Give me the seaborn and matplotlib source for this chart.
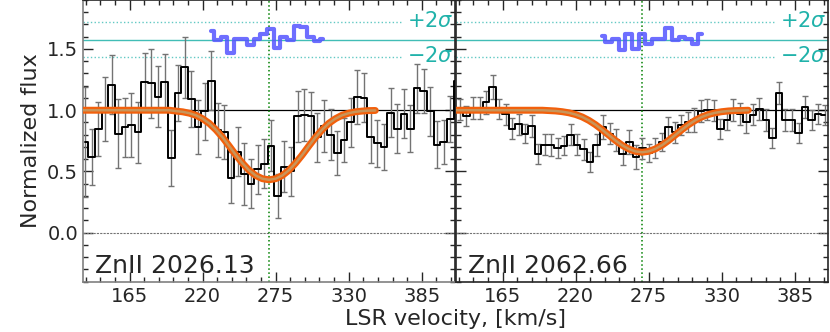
import matplotlib
matplotlib.use("Agg")
import matplotlib.pyplot as plt
from matplotlib.ticker import MultipleLocator
import seaborn as sns

sns.set_style("ticks")
plt.rcParams['font.family'] = ['DejaVu Sans']

# --- ZnII 2026.13 (painel esquerdo) ---
left_vel = [131.5 + 5 * k for k in range(57)]
left_flux = [0.74, 0.62, 0.85, 1.01, 1.21, 0.81, 0.86, 0.88, 0.82, 1.23,
             1.22, 1.11, 1.23, 0.61, 1.14, 1.35, 1.09, 0.86, 0.99, 1.24,
             0.84, 0.82, 0.45, 0.66, 0.48, 0.40, 0.52, 0.565, 0.71, 0.30,
             0.54, 0.50, 0.95, 0.96, 0.95, 0.78, 0.87, 0.80, 0.65, 0.76,
             0.90, 1.11, 1.10, 0.78, 0.73, 0.70, 0.98, 0.85, 0.97, 0.85,
             1.18, 1.16, 0.99, 0.72, 0.74, 0.93, 1.24]
left_err = [0.45, 0.23, 0.22, 0.26, 0.24, 0.28, 0.24, 0.26, 0.25, 0.24,
            0.28, 0.25, 0.23, 0.23, 0.23, 0.25, 0.23, 0.22, 0.23, 0.24,
            0.22, 0.22, 0.21, 0.20, 0.25, 0.20, 0.20, 0.20, 0.21, 0.18,
            0.21, 0.20, 0.21, 0.21, 0.20, 0.20, 0.21, 0.21, 0.18, 0.18,
            0.20, 0.22, 0.20, 0.21, 0.19, 0.19, 0.20, 0.20, 0.20, 0.19,
            0.20, 0.18, 0.20, 0.19, 0.18, 0.19, 0.20]

# --- ZnII 2062.66 (painel direito) ---
right_vel = [133 + 4.9 * k for k in range(57)]
right_flux = [1.005, 0.954, 1.02, 1.02, 1.065, 1.19, 1.01, 0.967, 0.85, 0.886,
              0.81, 0.87, 0.646, 0.72, 0.72, 0.69, 0.71, 0.80, 0.72, 0.68,
              0.58, 0.715, 0.864, 0.81, 0.755, 0.64, 0.74, 0.62, 0.69, 0.65,
              0.69, 0.74, 0.86, 0.82, 0.88, 0.905, 0.92, 0.99, 1.005, 1.00,
              0.85, 0.92, 1.005, 0.97, 0.90, 0.965, 1.01, 0.92, 0.77, 1.14,
              0.92, 0.92, 0.815, 1.03, 0.92, 0.97, 0.96]
right_err = [0.085, 0.082, 0.092, 0.09, 0.092, 0.095, 0.082, 0.085, 0.087, 0.087,
             0.08, 0.087, 0.082, 0.087, 0.09, 0.082, 0.077, 0.087, 0.082, 0.085,
             0.082, 0.088, 0.098, 0.082, 0.09, 0.087, 0.095, 0.1, 0.085, 0.075,
             0.082, 0.072, 0.087, 0.087, 0.085, 0.082, 0.1, 0.09, 0.088, 0.085,
             0.082, 0.079, 0.09, 0.09, 0.087, 0.082, 0.087, 0.092, 0.082, 0.087,
             0.087, 0.092, 0.082, 0.09, 0.085, 0.082, 0.082]

model_vel = list(range(130, 351, 5))
left_model = [1.0] * 14 + [0.993, 0.987, 0.976, 0.959, 0.931, 0.893, 0.841, 0.779,
                           0.708, 0.635, 0.568, 0.510, 0.467, 0.441, 0.432, 0.441,
                           0.467, 0.510, 0.568, 0.635, 0.708, 0.779, 0.841, 0.893,
                           0.931, 0.959, 0.976, 0.987, 0.993, 0.997, 0.998]
right_model = [1.0] * 14 + [0.997, 0.994, 0.988, 0.979, 0.965, 0.945, 0.917, 0.882,
                            0.841, 0.797, 0.753, 0.714, 0.684, 0.664, 0.657, 0.664,
                            0.684, 0.714, 0.753, 0.797, 0.841, 0.882, 0.917, 0.945,
                            0.965, 0.979, 0.988, 0.994, 0.997, 0.998, 1.0]

# residuos (deslocados para y=1.575)
left_res_vel = [226 + 5 * k for k in range(18)]
left_res = [1.65, 1.576, 1.60, 1.47, 1.58, 1.58, 1.53, 1.585, 1.625,
            1.665, 1.51, 1.595, 1.57, 1.69, 1.68, 1.60, 1.565, 1.585]
right_res_vel = [240 + 5 * k for k in range(16)]
right_res = [1.606, 1.557, 1.585, 1.489, 1.625, 1.503, 1.625, 1.544,
             1.579, 1.585, 1.674, 1.571, 1.598, 1.579, 1.544, 1.62]

labels = ['ZnII 2026.13', 'ZnII 2062.66']
res_zero = 1.575
two_sigma = 0.143
teal = 'lightseagreen'

fig = plt.figure(figsize=(8.3, 3.32), dpi=100)
axL = fig.add_axes([0.1, 0.1515, 0.4482, 0.8485])
axR = fig.add_axes([0.5494, 0.1515, 0.4482, 0.8485], sharey=axL)
axR.patch.set_visible(False)

panels = [
    (axL, left_vel, left_flux, left_err, left_model, left_res_vel, left_res, labels[0]),
    (axR, right_vel, right_flux, right_err, right_model, right_res_vel, right_res, labels[1]),
]

for ax, vel, flux, err, model, rvel, res, label in panels:
    ax.axhline(1.0, color='k', lw=0.9, zorder=1)
    ax.axhline(0.0, color='0.45', ls=(0, (2, 1)), lw=0.8, zorder=1)
    ax.axvline(270, color='green', ls=':', lw=1.1, zorder=1)
    ax.axhline(res_zero, color=teal, lw=1, alpha=0.85, zorder=1)
    ax.hlines([res_zero + two_sigma, res_zero - two_sigma], 130, 371,
              color=teal, ls=':', lw=1, alpha=0.7, zorder=1)
    ax.text(374, res_zero + two_sigma + 0.012, r'$+2\sigma$', color=teal,
            fontsize=15, va='center', clip_on=False)
    ax.text(374, res_zero - two_sigma + 0.012, r'$-2\sigma$', color=teal,
            fontsize=15, va='center', clip_on=False)

    sns.lineplot(x=vel, y=flux, drawstyle='steps-mid', color='k', lw=1.4, ax=ax, zorder=3)
    eb = ax.errorbar(vel, flux, yerr=err, fmt='none', ecolor='0.45',
                     elinewidth=1, capsize=2.5, zorder=2)
    for cap in eb[1]:
        cap.set_color('k')

    sns.lineplot(x=model_vel, y=model, color='#f2600c', lw=5, ax=ax, zorder=4)
    sns.lineplot(x=model_vel, y=model, color='#c8955a', lw=1.8, ax=ax, zorder=5)
    sns.lineplot(x=rvel, y=res, drawstyle='steps-mid', color='#5555ff',
                 lw=3, alpha=0.85, ax=ax, zorder=5)

    ax.text(0.032, 0.031, label, transform=ax.transAxes, fontsize=18, va='baseline')

    ax.set_xlim(130, 410)
    ax.set_ylim(-0.4, 1.9)
    ax.set_xticks([165, 220, 275, 330, 385])
    ax.xaxis.set_minor_locator(MultipleLocator(11))
    ax.set_yticks([0.0, 0.5, 1.0, 1.5])
    ax.yaxis.set_minor_locator(MultipleLocator(0.1))
    ax.tick_params(which='both', direction='in', top=True, right=True, labelsize=14)
    ax.tick_params(which='major', length=7, width=1)
    ax.tick_params(which='minor', length=3.5, width=1)
    ax.set_xlabel('')
    ax.set_ylabel('')
    for s in ax.spines.values():
        s.set_linewidth(1.2)

axL.spines['left'].set_color('0.5')
axL.spines['bottom'].set_color('0.5')
axR.tick_params(labelleft=False)
axL.set_ylabel('Normalized flux', fontsize=16)
fig.text(0.549, 0.021, 'LSR velocity, [km/s]', fontsize=16, ha='center', va='baseline')

fig.savefig('out.png', dpi=100)
